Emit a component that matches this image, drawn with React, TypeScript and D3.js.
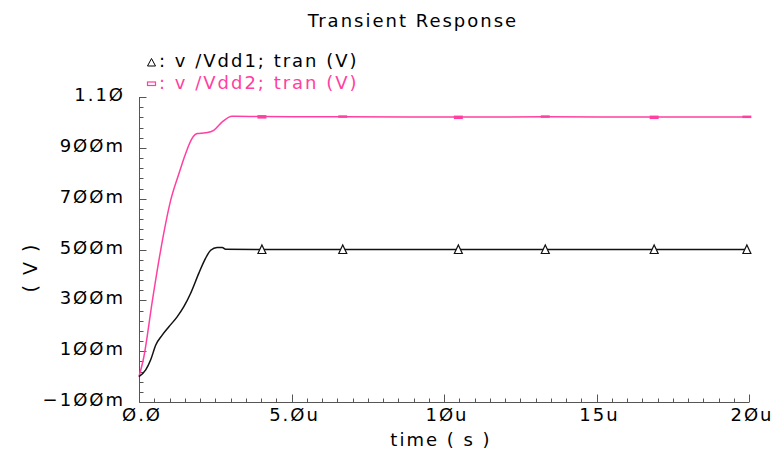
import React from "react";
import * as d3 from "d3";

const title = "Transient Response";
const xLabel = "time ( s )";
const yLabel = "( V )";
const legend1 = ": v /Vdd1; tran (V)";
const legend2 = ": v /Vdd2; tran (V)";

// time in microseconds
const vdd1T = [0, 0.22, 0.38, 0.55, 0.76, 0.98, 1.25, 1.47, 1.69, 1.96, 2.18, 2.35, 2.56, 2.73, 2.84, 4.03, 6.68, 10.47, 13.32, 16.89, 20];
const vdd1V = [0, 0.026, 0.065, 0.124, 0.163, 0.196, 0.235, 0.275, 0.327, 0.406, 0.465, 0.497, 0.508, 0.508, 0.501, 0.5, 0.5, 0.5, 0.5, 0.5, 0.5];

const vdd2T = [0, 0.16, 0.44, 0.71, 1.04, 1.31, 1.53, 1.74, 1.91, 2.18, 2.45, 2.73, 3.05, 3.93, 6.68, 10.47, 13.32, 16.89, 20];
const vdd2V = [0, 0.078, 0.3, 0.497, 0.694, 0.799, 0.878, 0.937, 0.956, 0.959, 0.969, 1.002, 1.024, 1.023, 1.022, 1.021, 1.022, 1.021, 1.021];

const markerT = [4.03, 6.68, 10.47, 13.32, 16.89, 19.93];

const xTickValues = [0, 5, 10, 15, 20];
const xTickLabels = ["Ø.Ø", "5.Øu", "1Øu", "15u", "2Øu"];
const yTickValues = [1.1, 0.9, 0.7, 0.5, 0.3, 0.1, -0.1];
const yTickLabels = ["1.1Ø", "9ØØm", "7ØØm", "5ØØm", "3ØØm", "1ØØm", "−1ØØm"];

const PINK = "#ff40a0";
const FONT = "'DejaVu Sans', sans-serif";

export default function App() {
  const x = d3.scaleLinear().domain([0, 20]).range([139, 749]);
  const y = d3.scaleLinear().domain([-0.1, 1.1]).range([402, 97]);

  const line = d3
    .line<[number, number]>()
    .x((d) => x(d[0]))
    .y((d) => y(d[1]))
    .curve(d3.curveMonotoneX);

  const d1 = vdd1T.map((t, i) => [t, vdd1V[i]] as [number, number]);
  const d2 = vdd2T.map((t, i) => [t, vdd2V[i]] as [number, number]);

  const interp = (ts: number[], vs: number[], t: number) => {
    for (let i = 1; i < ts.length; i++) {
      if (t <= ts[i]) {
        const f = (t - ts[i - 1]) / (ts[i] - ts[i - 1]);
        return vs[i - 1] + f * (vs[i] - vs[i - 1]);
      }
    }
    return vs[vs.length - 1];
  };

  const xMinor = d3.range(0, 20.0001, 0.5);
  const yMinor = d3.range(0, 31).map((i) => -0.1 + i * 0.04);
  const isXMajor = (t: number) => Math.abs(t / 5 - Math.round(t / 5)) < 1e-6;
  const isYMajor = (v: number) => {
    const k = (v + 0.1) / 0.2;
    return Math.abs(k - Math.round(k)) < 1e-6;
  };

  const axisColor = "#555";
  const textStyle: React.CSSProperties = { fontFamily: FONT, fontSize: 18, letterSpacing: 2 };

  return (
    <svg width={773} height={454} style={{ position: "absolute", left: 0, top: 0, background: "#fff" }}>
      <rect width={773} height={454} fill="#fff" />
      <text x={413} y={27} textAnchor="middle" style={textStyle} fill="#000">
        {title}
      </text>

      {/* legend */}
      <path d="M147.5,66 L151.5,58.5 L155.5,66 Z" fill="none" stroke="#000" strokeWidth={1} />
      <text x={159} y={67} style={textStyle} fill="#000">
        {legend1}
      </text>
      <rect x={147.5} y={82} width={8} height={3.5} fill="none" stroke={PINK} strokeWidth={1.2} />
      <text x={159} y={89} style={textStyle} fill={PINK}>
        {legend2}
      </text>

      {/* axes */}
      <line x1={139.5} x2={139.5} y1={y(1.1)} y2={402.5} stroke={axisColor} strokeWidth={1} />
      <line x1={139.5} x2={x(20)} y1={402.5} y2={402.5} stroke={axisColor} strokeWidth={1} />
      {yMinor.map((v, i) => (
        <line
          key={"ym" + i}
          x1={139.5}
          x2={139.5 + (isYMajor(v) ? 7 : 4)}
          y1={Math.round(y(v)) + 0.5}
          y2={Math.round(y(v)) + 0.5}
          stroke={axisColor}
          strokeWidth={1}
        />
      ))}
      {xMinor.map((t, i) => (
        <line
          key={"xm" + i}
          x1={Math.round(x(t)) + 0.5}
          x2={Math.round(x(t)) + 0.5}
          y1={402.5}
          y2={402.5 - (isXMajor(t) ? 8 : 4)}
          stroke={axisColor}
          strokeWidth={1}
        />
      ))}
      {yTickValues.map((v, i) => (
        <text key={"yl" + i} x={125} y={y(v) + 4} textAnchor="end" style={textStyle} fill="#000">
          {yTickLabels[i]}
        </text>
      ))}
      {xTickValues.map((t, i) => (
        <text key={"xl" + i} x={x(t) + 3} y={421} textAnchor="middle" style={textStyle} fill="#000">
          {xTickLabels[i]}
        </text>
      ))}
      <text x={441} y={446} textAnchor="middle" style={textStyle} fill="#000">
        {xLabel}
      </text>
      <text
        transform={`translate(37,${y(0.5) + 18}) rotate(-90)`}
        textAnchor="middle"
        style={{ ...textStyle, fontSize: 19 }}
        fill="#000"
      >
        {yLabel}
      </text>

      {/* series */}
      <path d={line(d2) || ""} fill="none" stroke={PINK} strokeWidth={1.5} />
      <path d={line(d1) || ""} fill="none" stroke="#111" strokeWidth={1.5} />

      {markerT.map((t, i) => {
        const cx = x(t);
        const cy = y(interp(vdd2T, vdd2V, t));
        return <rect key={"pm" + i} x={cx - 4.5} y={cy - 1.5} width={9} height={i % 2 === 0 ? 3.5 : 2.5} fill={PINK} />;
      })}
      {markerT.map((t, i) => {
        const cx = x(t);
        const cy = y(interp(vdd1T, vdd1V, t));
        return (
          <path
            key={"bm" + i}
            d={`M${cx - 4},${cy + 4} L${cx},${cy - 4.5} L${cx + 4},${cy + 4} Z`}
            fill="#fff"
            stroke="#111"
            strokeWidth={1.2}
          />
        );
      })}
    </svg>
  );
}
